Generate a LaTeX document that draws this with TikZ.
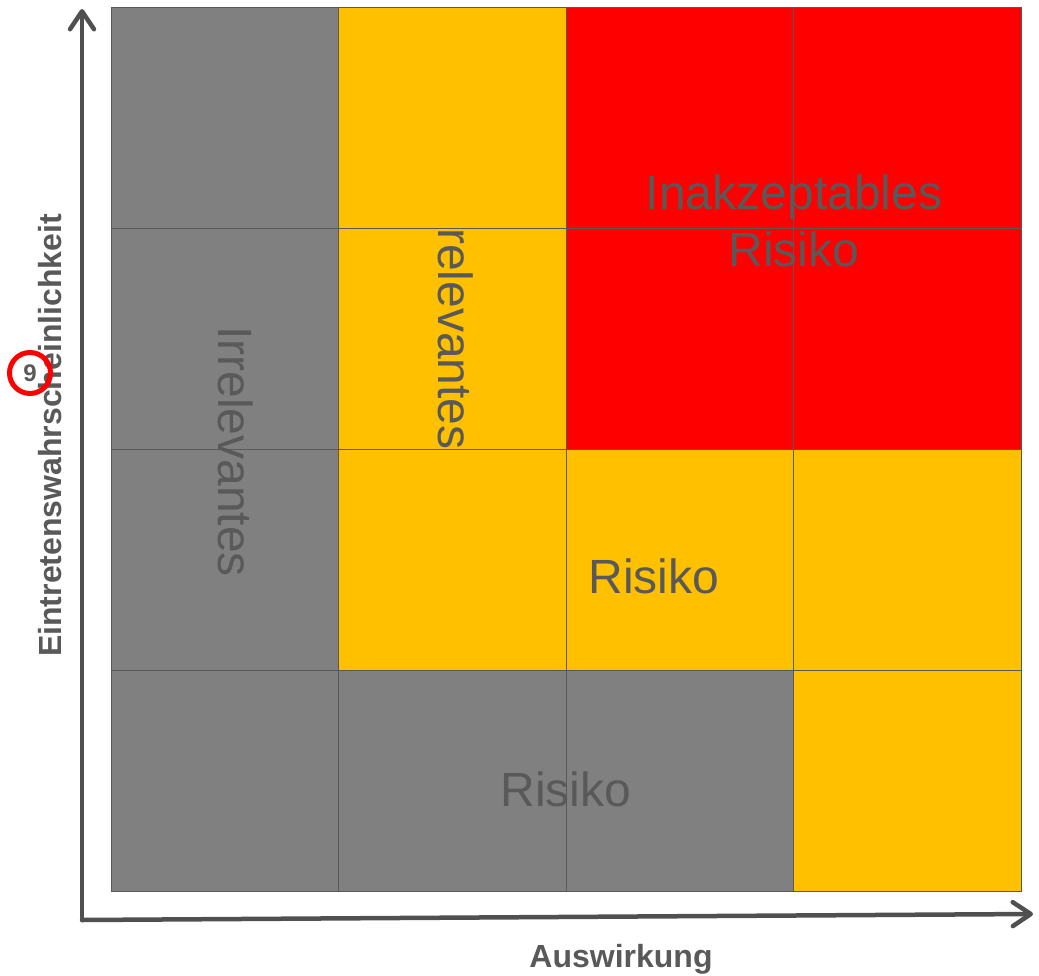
\documentclass[tikz,border=0pt]{standalone}
\usepackage{fontspec}
\setmainfont{Liberation Sans}
\usetikzlibrary{arrows.meta}
\definecolor{cgray}{HTML}{808080}
\definecolor{cyel}{HTML}{FFC000}
\definecolor{cred}{HTML}{FF0000}
\definecolor{ctext}{HTML}{595959}
\definecolor{caxis}{HTML}{505050}
\begin{document}
\begin{tikzpicture}[x=1pt,y=-1pt,
  cell/.style={draw=ctext, line width=0.9pt},
  big/.style={text=ctext, font=\fontsize{48}{57}\selectfont, inner sep=0pt},
  axlabel/.style={text=ctext, font=\bfseries\fontsize{32}{38}\selectfont, inner sep=0pt},
  axis/.style={draw=caxis, line width=4.5pt, line cap=round,
    -{Straight Barb[length=18pt,width=24pt,round]}}]
\useasboundingbox (0,0) rectangle (1039,976);
% grid cells
\foreach \c [count=\i from 0] in {cgray,cyel,cred,cred, cgray,cyel,cred,cred, cgray,cyel,cyel,cyel, cgray,cgray,cgray,cyel}{
  \pgfmathsetmacro\col{mod(\i,4)}
  \pgfmathsetmacro\row{int(\i/4)}
  \pgfmathsetmacro\xa{111+\col*227.5}
  \pgfmathsetmacro\ya{7+\row*221}
  \path[cell, fill=\c] (\xa,\ya) rectangle ++(227.5,221);
}
% axes
\coordinate (origin) at (82,920);
\coordinate (ytip) at (82,9);
\coordinate (xtip) at (1033,914);
\draw[axis] (origin) -- (ytip);
\draw[axis] (origin) -- (xtip);
% labels in grid
\node[big, anchor=base] (inak) at (794,210) {Inakzeptables};
\node[big, anchor=base] (inakr) at (794,267) {Risiko};
\node[big, rotate=-90, anchor=base west] (relev) at (438,228) {relevantes};
\node[big, rotate=-90, anchor=base west] (irrel) at (218,326) {Irrelevantes};
\node[big, anchor=base] (rmid) at (654,593) {Risiko};
\node[big, anchor=base] (rlow) at (566,806) {Risiko};
% axis labels
\node[axlabel, rotate=90, anchor=base west] (ylab) at (61,657) {Eintretenswahrscheinlichkeit};
\node[axlabel, anchor=base] (xlab) at (621,967) {Auswirkung};
% marker
\node[circle, draw=cred, line width=5pt, minimum size=41pt, inner sep=0pt,
  text=ctext, font=\bfseries\fontsize{24}{28}\selectfont] (mark) at (30,373) {9};
\end{tikzpicture}
\end{document}
